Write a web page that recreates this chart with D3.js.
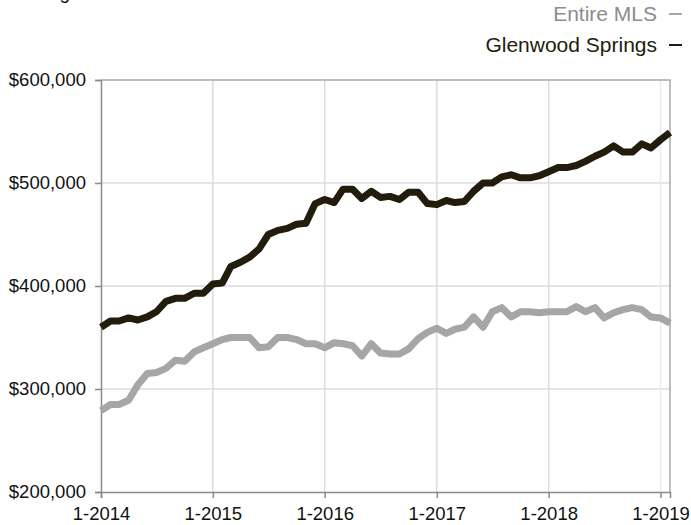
<!DOCTYPE html>
<html>
<head>
<meta charset="utf-8">
<script src="https://cdn.jsdelivr.net/npm/d3@7"></script>
<style>
  body { margin: 0; background: #fff; }
  text { font-family: "Liberation Sans", Arial, sans-serif; }
</style>
</head>
<body>
<div id="chart"></div>
<script>
// months Jan 2014 .. Feb 2019
var startYear = 2014, startMonth = 0, numMonths = 62;

// rolling median sales price, in $1000s
var glenwoodSprings = [
  360, 366, 366, 369, 367, 370, 375, 385, 388, 388, 393, 393,
  402, 403, 419, 423, 428, 436, 450, 454, 456, 460, 461, 480,
  484, 481, 494, 494, 485, 492, 486, 487, 484, 491, 491, 480,
  479, 483, 481, 482, 492, 500, 500, 506, 508, 505, 505, 507,
  511, 515, 515, 517, 521, 526, 530, 536, 530, 530, 538, 534,
  542, 549
];
var entireMLS = [
  279, 285, 285, 289, 304, 315, 316, 320, 328, 327, 336, 340,
  344, 348, 350, 350, 350, 340, 341, 350, 350, 348, 344, 344,
  340, 345, 344, 342, 332, 344, 335, 334, 334, 339, 349, 355,
  359, 354, 358, 360, 370, 360, 375, 379, 370, 375, 375, 374,
  375, 375, 375, 380, 375, 379, 369, 374, 377, 379, 377, 370,
  369, 364
];

var yTicks = [200000, 300000, 400000, 500000, 600000];
var xTickYears = [2014, 2015, 2016, 2017, 2018, 2019];

var seriesNames = ["Entire MLS", "Glenwood Springs"];
var seriesColors = ["#a6a6a6", "#231c0c"];
var legendTextColors = ["#8c8c8c", "#231c0c"];

function makeDates() {
  var arr = [];
  for (var i = 0; i < numMonths; i++) {
    arr.push(new Date(startYear, startMonth + i, 1));
  }
  return arr;
}

function drawChart() {
  var dates = makeDates();

  var width = 691, height = 525;
  var margin = {top: 80, right: 21, bottom: 33, left: 101};

  var svg = d3.select("#chart").append("svg")
      .attr("width", width)
      .attr("height", height);

  var x = d3.scaleTime()
      .domain([dates[0], dates[dates.length - 1]])
      .range([margin.left, width - margin.right]);

  var y = d3.scaleLinear()
      .domain([200000, 600000])
      .range([height - margin.bottom, margin.top]);

  var fmtMoney = d3.format("$,.0f");

  // gridlines
  svg.append("g")
    .selectAll("line")
    .data(yTicks.slice(1, -1))
    .enter().append("line")
      .attr("x1", margin.left)
      .attr("x2", width - margin.right)
      .attr("y1", function(d) { return y(d); })
      .attr("y2", function(d) { return y(d); })
      .style("stroke", "#dcdcdc")
      .style("stroke-width", 1.5);

  svg.append("g")
    .selectAll("line")
    .data(xTickYears.slice(1))
    .enter().append("line")
      .attr("x1", function(d) { return x(new Date(d, 0, 1)); })
      .attr("x2", function(d) { return x(new Date(d, 0, 1)); })
      .attr("y1", margin.top)
      .attr("y2", height - margin.bottom)
      .style("stroke", function(d) { return d == 2019 ? "#ececec" : "#dcdcdc"; })
      .style("stroke-width", 1.5);

  // frame top/right
  svg.append("path")
    .attr("d", "M" + margin.left + "," + y(600000) + "H" + x(dates[dates.length - 1]) + "V" + y(200000))
    .style("fill", "none")
    .style("stroke", "#a9a9a9")
    .style("stroke-width", 1.5);

  // y axis
  var yAxis = svg.append("g")
    .attr("transform", "translate(" + margin.left + ",0)")
    .call(d3.axisLeft(y).tickValues(yTicks).tickFormat(fmtMoney).tickSize(6).tickPadding(9));

  // x axis
  var xAxis = svg.append("g")
    .attr("transform", "translate(0," + (height - margin.bottom) + ")")
    .call(d3.axisBottom(x)
      .tickValues(xTickYears.map(function(d) { return new Date(d, 0, 1); }))
      .tickFormat(function(d) { return "1-" + d.getFullYear(); })
      .tickSize(6).tickPadding(9));

  [yAxis, xAxis].forEach(function(ax) {
    ax.select(".domain").style("stroke", "#8a8a8a").style("stroke-width", 1.5);
    ax.selectAll(".tick line").style("stroke", "#8a8a8a").style("stroke-width", 1.5);
    ax.selectAll("text")
      .style("font-size", "18.5px")
      .style("fill", "#111");
  });

  // lines
  var line = d3.line()
    .x(function(d, i) { return x(dates[i]); })
    .y(function(d) { return y(d * 1000); });

  [entireMLS, glenwoodSprings].forEach(function(s, k) {
    svg.append("path")
      .datum(s)
      .attr("d", line)
      .style("fill", "none")
      .style("stroke", seriesColors[k])
      .style("stroke-width", 7)
      .style("stroke-linejoin", "round");
  });

  // title, mostly cut off above the top edge as in the source
  svg.append("text")
    .attr("x", 12)
    .attr("y", -1)
    .style("font-size", "19px")
    .style("fill", "#111")
    .text("Rolling 12-Month Median Sales Price");

  // legend
  var legend = svg.append("g");
  seriesNames.forEach(function(name, k) {
    var ly = 21 + k * 31;
    legend.append("text")
      .attr("x", 657)
      .attr("y", ly)
      .attr("text-anchor", "end")
      .style("font-size", "21px")
      .style("fill", legendTextColors[k])
      .text(name);
    legend.append("line")
      .attr("x1", 669)
      .attr("x2", 682)
      .attr("y1", ly - 7)
      .attr("y2", ly - 7)
      .style("stroke", seriesColors[k])
      .style("stroke-width", 2);
  });
}

drawChart();
</script>
</body>
</html>
